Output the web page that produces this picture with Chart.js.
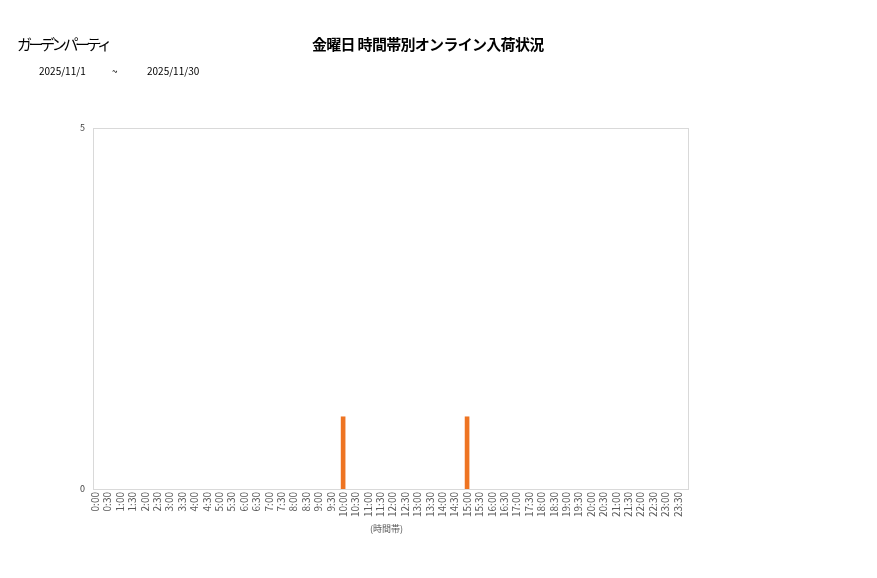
<!DOCTYPE html>
<html>
<head>
<meta charset="utf-8">
<script src="https://cdn.jsdelivr.net/npm/chart.js@4/dist/chart.umd.min.js"></script>
<style>
  body { margin: 0; background: #fff; font-family: "Noto Sans CJK JP", sans-serif; }
  #wrap { position: absolute; left: 0; top: 0; width: 877px; height: 578px; }
  .txt { position: absolute; white-space: nowrap; color: #000; }
</style>
</head>
<body>
<div id="wrap"><canvas id="chart1" width="877" height="578"></canvas></div>
<div class="txt" style="left:17px; top:33px; font-size:15px; letter-spacing:-3.4px;">ガーデンパーティ</div>
<div class="txt" style="left:312px; top:33px; font-size:15px; font-weight:bold; letter-spacing:-0.7px;">金曜日 時間帯別オンライン入荷状況</div>
<div class="txt" style="left:39px; top:63px; font-size:10px;">2025/11/1</div>
<div class="txt" style="left:112px; top:63px; font-size:10px;">~</div>
<div class="txt" style="left:147px; top:63px; font-size:10px;">2025/11/30</div>
<script>
const timeLabels = ['0:00','0:30','1:00','1:30','2:00','2:30','3:00','3:30','4:00','4:30','5:00','5:30',
  '6:00','6:30','7:00','7:30','8:00','8:30','9:00','9:30','10:00','10:30','11:00','11:30',
  '12:00','12:30','13:00','13:30','14:00','14:30','15:00','15:30','16:00','16:30','17:00','17:30',
  '18:00','18:30','19:00','19:30','20:00','20:30','21:00','21:30','22:00','22:30','23:00','23:30'];
const arrivals = [0,0,0,0,0,0,0,0,0,0,0,0,
  0,0,0,0,0,0,0,0,1,0,0,0,
  0,0,0,0,0,0,1,0,0,0,0,0,
  0,0,0,0,0,0,0,0,0,0,0,0];
const yTicks = [0, 5];

// border round the plot area (the reference frame sits a few px right of the category band)
const frameShift = 4;
const frame = {
  id: 'frame',
  afterDraw(chart) {
    const a = chart.chartArea;
    const ctx = chart.ctx;
    ctx.save();
    ctx.strokeStyle = '#d9d9d9';
    ctx.lineWidth = 1;
    ctx.strokeRect(a.left + frameShift + 0.5, a.top + 0.5, a.right - a.left, a.bottom - a.top);
    ctx.restore();
  }
};

const tickFont = { family: '"Noto Sans CJK JP", sans-serif', size: 10 };

const config = {
  type: 'bar',
  data: {
    labels: timeLabels,
    datasets: [{
      data: arrivals,
      backgroundColor: ctx => ctx.raw > 0 ? '#ee7422' : 'rgba(0,0,0,0)',
      barThickness: 4
    }]
  },
  options: {
    responsive: false,
    animation: false,
    layout: { padding: { top: 128, right: 193, left: 0, bottom: 44 } },
    plugins: { legend: { display: false }, tooltip: { enabled: false } },
    scales: {
      x: {
        grid: { display: false, drawTicks: false },
        border: { display: false },
        ticks: { autoSkip: false, minRotation: 90, maxRotation: 90, padding: 3, color: '#595959', font: tickFont },
        title: { display: true, text: '(時間帯)', color: '#595959', font: { family: '"Noto Sans CJK JP", sans-serif', size: 9 }, padding: 0 },
        afterFit(scale) { scale.height = 45; }
      },
      y: {
        min: 0, max: 5,
        afterBuildTicks(scale) { scale.ticks = yTicks.map(v => ({ value: v })); },
        grid: { display: false, drawTicks: false },
        border: { display: false },
        ticks: { padding: 4, color: '#404040', font: { family: '"Noto Sans CJK JP", sans-serif', size: 9 } },
        afterFit(scale) { scale.width = 89; }
      }
    }
  },
  plugins: [frame]
};

new Chart(document.getElementById('chart1').getContext('2d'), config);
</script>
</body>
</html>
